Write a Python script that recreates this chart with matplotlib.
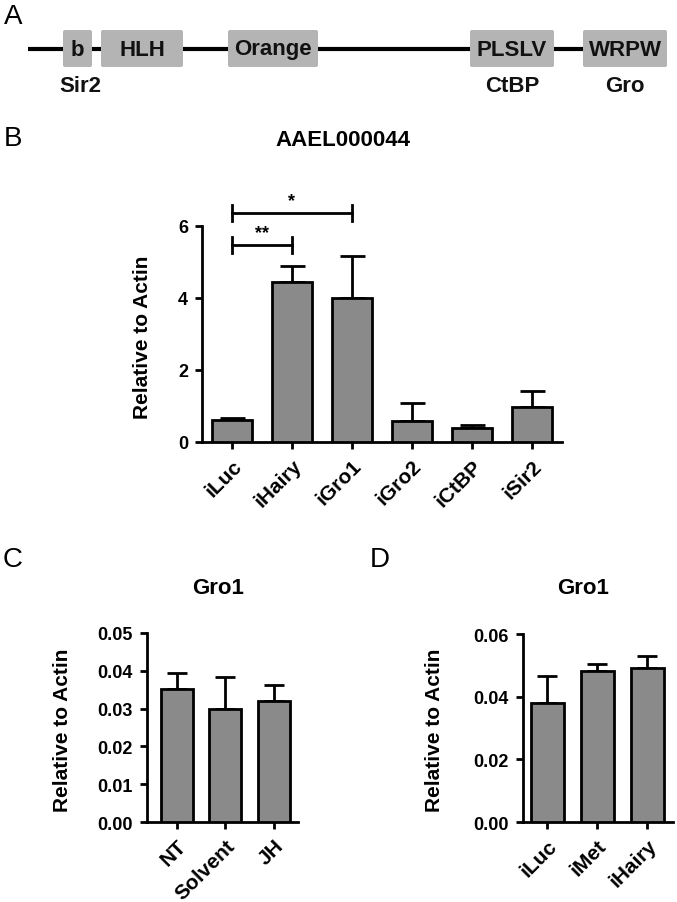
import matplotlib
matplotlib.use("Agg")
import matplotlib.pyplot as plt
from matplotlib.patches import FancyBboxPatch
import numpy as np

plt.rcParams['font.family'] = ['Liberation Sans', 'DejaVu Sans']

W, H = 677, 903

# panel A: protein domains (pixel positions along the schematic)
domain_names = ['b', 'HLH', 'Orange', 'PLSLV', 'WRPW']
domain_start = [63, 101, 228, 470, 583]
domain_end = [92, 183, 318, 554, 667]
partner_names = ['Sir2', 'CtBP', 'Gro']
partner_domain = ['b', 'PLSLV', 'WRPW']

# panel B
b_labels = ['iLuc', 'iHairy', 'iGro1', 'iGro2', 'iCtBP', 'iSir2']
b_values = [0.61, 4.44, 4.00, 0.58, 0.39, 0.97]
b_errors = [0.06, 0.45, 1.17, 0.50, 0.08, 0.45]
b_sig = [(0, 1, 5.47, '**'), (0, 2, 6.36, '*')]

# panel C
c_labels = ['NT', 'Solvent', 'JH']
c_values = [0.0352, 0.0299, 0.0321]
c_errors = [0.0041, 0.0084, 0.0041]

# panel D
d_labels = ['iLuc', 'iMet', 'iHairy']
d_values = [0.0379, 0.0481, 0.0491]
d_errors = [0.0086, 0.0023, 0.0040]

BAR = '#8a8a8a'
BOX = '#b4b4b4'
LW = 2.0


def px(x, y):
    return x / W, 1 - y / H


def box(l, t, r, b):
    return [l / W, 1 - b / H, (r - l) / W, (b - t) / H]


def bar_panel(ax, labels, values, errors, ylim, yticks, fmt, xlim, capsize):
    x = np.arange(len(labels))
    ax.bar(x, values, width=0.66, color=BAR, edgecolor='black', linewidth=LW, zorder=3)
    ax.errorbar(x, values, yerr=[np.zeros(len(values)), errors], fmt='none',
                ecolor='black', elinewidth=LW, capsize=capsize, capthick=LW, zorder=2)
    ax.set_xlim(*xlim)
    ax.set_ylim(*ylim)
    ax.set_yticks(yticks)
    ax.set_yticklabels([fmt % v for v in yticks], fontweight='bold', fontsize=13)
    ax.set_xticks(x)
    ax.set_xticklabels(labels, rotation=45, ha='right', rotation_mode='anchor',
                       fontweight='bold', fontsize=15)
    for s in ['top', 'right']:
        ax.spines[s].set_visible(False)
    for s in ['left', 'bottom']:
        ax.spines[s].set_linewidth(LW)
    ax.tick_params(width=LW, length=5, pad=5)


fig = plt.figure(figsize=(W / 100, H / 100), dpi=100)

# ---------------- A
axA = fig.add_axes([0, 0, 1, 1])
axA.set_xlim(0, W)
axA.set_ylim(H, 0)
axA.axis('off')
axA.plot([28, 583], [50, 50], color='black', lw=3, solid_capstyle='butt', zorder=1)
for name, s, e in zip(domain_names, domain_start, domain_end):
    axA.add_patch(FancyBboxPatch((s, 31), e - s, 37, boxstyle='round,pad=0,rounding_size=2',
                                 facecolor=BOX, edgecolor='none', zorder=2))
    axA.text((s + e) / 2, 50, name, ha='center', va='center', fontsize=16,
             fontweight='bold', color='#111111', zorder=3)
for name, dom in zip(partner_names, partner_domain):
    i = domain_names.index(dom)
    xc = (domain_start[i] + domain_end[i]) / 2
    if dom == 'b':
        xc = 80
    axA.text(xc, 87, name, ha='center', va='center', fontsize=16,
             fontweight='bold', color='#111111')

# ---------------- B
axB = fig.add_axes(box(202, 227, 562, 443))
bar_panel(axB, b_labels, b_values, b_errors, (0, 6), [0, 2, 4, 6], '%d', (-0.5, 5.5), 9)
for i0, i1, y, star in b_sig:
    axB.plot([i0, i1], [y, y], color='black', lw=LW, clip_on=False)
    for xi in (i0, i1):
        axB.plot([xi, xi], [y - 0.22, y + 0.22], color='black', lw=LW, clip_on=False)
    axB.text((i0 + i1) / 2, y + 0.12, star, ha='center', va='bottom', fontsize=13,
             fontweight='bold', clip_on=False)

# ---------------- C
axC = fig.add_axes(box(147, 634, 298, 823))
bar_panel(axC, c_labels, c_values, c_errors, (0, 0.05),
          [0, 0.01, 0.02, 0.03, 0.04, 0.05], '%.2f', (-0.62, 2.5), 7)

# ---------------- D
axD = fig.add_axes(box(523, 635, 673, 823))
bar_panel(axD, d_labels, d_values, d_errors, (0, 0.06),
          [0, 0.02, 0.04, 0.06], '%.2f', (-0.48, 2.52), 7)

# titles, axis labels, panel letters
fig.text(*px(343, 141), 'AAEL000044', ha='center', va='center', fontsize=16, fontweight='bold')
fig.text(*px(218, 589), 'Gro1', ha='center', va='center', fontsize=16, fontweight='bold')
fig.text(*px(583, 589), 'Gro1', ha='center', va='center', fontsize=16, fontweight='bold')
for xy in [(142, 337), (63, 730), (435, 730)]:
    fig.text(*px(*xy), 'Relative to Actin', rotation=90, ha='center', va='center',
             fontsize=15, fontweight='bold')
for letter, xy in [('A', (13, 17)), ('B', (13, 139)), ('C', (13, 560)), ('D', (380, 560))]:
    fig.text(*px(*xy), letter, ha='center', va='center', fontsize=20)

fig.savefig('out.png', dpi=100)
